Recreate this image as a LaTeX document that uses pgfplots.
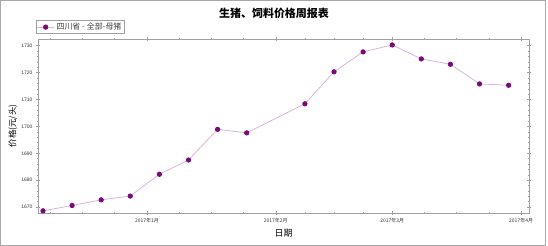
\documentclass[border=0pt]{standalone}
\usepackage{pgfplots}
\pgfplotsset{compat=1.18}
\usepackage{fontspec}
\setmainfont{Liberation Sans}
\newfontfamily\cjk{Noto Sans CJK SC}
\definecolor{markpurple}{HTML}{7A0A7A}
\definecolor{linepink}{HTML}{D8B4D8}
\definecolor{axisgray}{HTML}{A0A0A0}
\definecolor{framegray}{HTML}{A8A8A8}

\begin{document}
\begin{tikzpicture}
% page extent and outer frame
\path (0bp,0bp) rectangle (548bp,246bp);
\draw[framegray, line width=1bp] (0.5bp,0.5bp) rectangle (545.5bp,245.5bp);
\node[font=\cjk\bfseries\fontsize{11}{13}\selectfont] at (274bp,233bp) {生猪、饲料价格周报表};
\begin{axis}[
  at={(38bp,33bp)}, anchor=south west,
  scale only axis, width=491bp, height=174bp,
  xmin=-26.2, xmax=91.9, ymin=1667.8, ymax=1732.5,
  axis line style={axisgray, line width=0.6bp},
  every tick/.style={axisgray, line width=0.5bp},
  major tick length=4bp, minor tick length=2bp,
  tick align=center,
  xtick={0,31,59,90},
  xticklabels={2017年1月,2017年2月,2017年3月,2017年4月},
  minor xtick={-23.25,-15.5,-7.75,7.75,15.5,23.25,38,45,52,66.75,74.5,82.25},
  ytick={1670,1680,...,1730},
  minor y tick num=4,
  xticklabel style={font=\cjk\fontsize{5}{6}\selectfont, text=black!80},
  yticklabel style={font=\fontsize{5}{6}\selectfont, text=black!80},
  /pgf/number format/assume math mode=true,
  /pgf/number format/1000 sep={},
  xlabel={日期},
  every axis x label/.style={font=\cjk\fontsize{9}{10}\selectfont,
    at={(axis description cs:0.5,-0.115)}, anchor=center},
  ylabel={价格(元/头)},
  every axis y label/.style={font=\cjk\fontsize{8.5}{10}\selectfont,
    at={(axis description cs:-0.051,0.5)}, anchor=center, rotate=90},
  legend style={at={(0,1)}, anchor=south west, xshift=-2bp, yshift=5bp,
    draw=axisgray, line width=0.5bp, inner sep=0.5bp,
    font=\cjk\fontsize{8}{9}\selectfont, text=black!75},
  legend cell align=left,
]
\addplot[color=linepink, line width=0.8bp, mark=*,
  mark options={fill=markpurple, draw=markpurple}, mark size=2.2bp]
  table {
  day price
  -25 1668.6
  -18 1670.6
  -11 1672.7
  -4  1674.1
  3   1682.2
  10  1687.5
  17  1698.9
  24  1697.6
  38  1708.4
  45  1720.3
  52  1727.7
  59  1730.3
  66  1725.1
  73  1723.1
  80  1715.8
  87  1715.3
  };
\addlegendentry{四川省 - 全部-母猪}
\end{axis}
\end{tikzpicture}
\end{document}
